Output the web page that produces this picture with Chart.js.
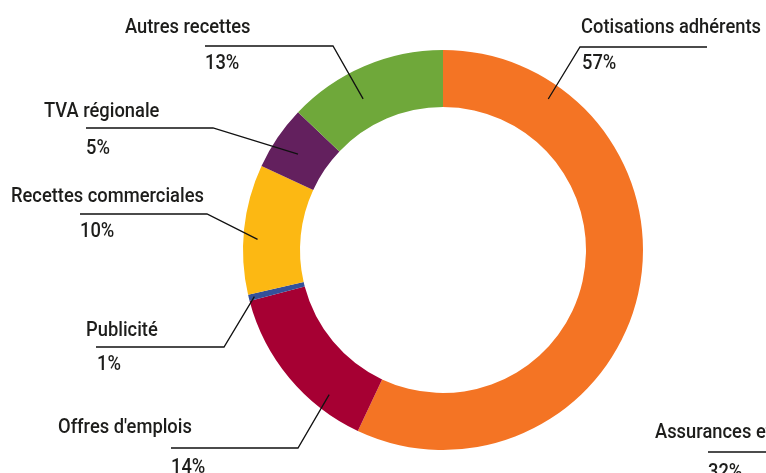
<!DOCTYPE html>
<html>
<head>
<meta charset="utf-8">
<script src="https://cdn.jsdelivr.net/npm/chart.js@4/dist/chart.umd.min.js"></script>
<style>
html,body{margin:0;padding:0;background:#fff;}
#wrap{width:766px;height:473px;position:relative;}
</style>
</head>
<body>
<div id="wrap"><canvas id="c"></canvas></div>
<script>
// Data
const categories = ["Cotisations adhérents", "Offres d'emplois", "Publicité", "Recettes commerciales", "TVA régionale", "Autres recettes"];
const values = [57.0, 13.9, 0.5, 10.5, 5.2, 12.9];
const percentLabels = ["57%", "14%", "1%", "10%", "5%", "13%"];
const colors = ["#F47424", "#A60033", "#34519A", "#FCB813", "#63205E", "#6FA83A"];
// Extra label visible at the cropped edge
const extraLabel = "Assurances et";
const extraPercent = "32%";

// Label layout (text positions, leader line geometry)
const labelLayout = [
  {tx:581, ty:33, px:582, py:69, lx1:580, lx2:707, ly:47, side:'right', t:0.17, rf:0.72},
  {tx:58,  ty:433, px:171, py:473, lx1:171, lx2:298, ly:448, side:'left', t:0.26, rf:0.72},
  {tx:86,  ty:336, px:97,  py:370, lx1:96,  lx2:224, ly:347, side:'left', t:0.5, rf:0.9},
  {tx:11,  ty:202, px:80,  py:237, lx1:80,  lx2:207, ly:214, side:'left', t:0.43, rf:0.75},
  {tx:44,  ty:117, px:86,  py:154, lx1:86,  lx2:213, ly:128, side:'left', t:0.46, rf:0.54},
  {tx:125, ty:33,  px:205, py:69,  lx1:205, lx2:333, ly:46,  side:'left', t:0.4, rf:0.49}
];
const extraLayout = {tx:655, ty:438, px:708, py:478, lx1:708, lx2:780, ly:452};

const FONT = '500 21px Roboto';
const TEXT_COLOR = '#1d1d1b';

const labelPlugin = {
  id: 'labels',
  afterDraw(chart) {
    const ctx = chart.ctx;
    const meta = chart.getDatasetMeta(0);
    ctx.save();
    ctx.font = FONT;
    const sx = 180 / ctx.measureText('Cotisations adhérents').width;
    const drawText = (s, x, y) => {
      ctx.save();
      ctx.translate(x, y);
      ctx.scale(sx, 1);
      ctx.font = FONT;
      ctx.fillStyle = TEXT_COLOR;
      ctx.textBaseline = 'alphabetic';
      ctx.textAlign = 'left';
      ctx.fillText(s, 0, 0);
      ctx.restore();
    };
    ctx.strokeStyle = '#111';
    ctx.lineWidth = 1.3;
    meta.data.forEach((arc, i) => {
      const L = labelLayout[i];
      const p = arc.getProps(['x','y','startAngle','endAngle','innerRadius','outerRadius'], true);
      const a = p.startAngle + L.t * (p.endAngle - p.startAngle);
      const r = p.innerRadius + L.rf * (p.outerRadius - p.innerRadius);
      const ax = p.x + Math.cos(a) * r;
      const ay = p.y + Math.sin(a) * r;
      const jx = L.side === 'right' ? L.lx1 : L.lx2;
      ctx.beginPath();
      ctx.moveTo(ax, ay);
      ctx.lineTo(jx, L.ly);
      if (L.side === 'right') ctx.lineTo(L.lx2, L.ly); else ctx.lineTo(L.lx1, L.ly);
      ctx.stroke();
      drawText(categories[i], L.tx, L.ty);
      drawText(percentLabels[i], L.px, L.py);
    });
    const E = extraLayout;
    ctx.beginPath();
    ctx.moveTo(E.lx1, E.ly);
    ctx.lineTo(E.lx2, E.ly);
    ctx.stroke();
    drawText(extraLabel, E.tx, E.ty);
    drawText(extraPercent, E.px, E.py);
    ctx.restore();
  }
};

new Chart(document.getElementById('c'), {
  type: 'doughnut',
  data: {
    labels: categories,
    datasets: [{
      data: values,
      backgroundColor: colors,
      borderWidth: 0
    }]
  },
  options: {
    responsive: true,
    maintainAspectRatio: false,
    animation: false,
    cutout: '71.5%',
    layout: {padding: {top: 50, bottom: 23, left: 243, right: 123}},
    plugins: {legend: {display: false}, tooltip: {enabled: false}}
  },
  plugins: [labelPlugin]
});
</script>
</body>
</html>
